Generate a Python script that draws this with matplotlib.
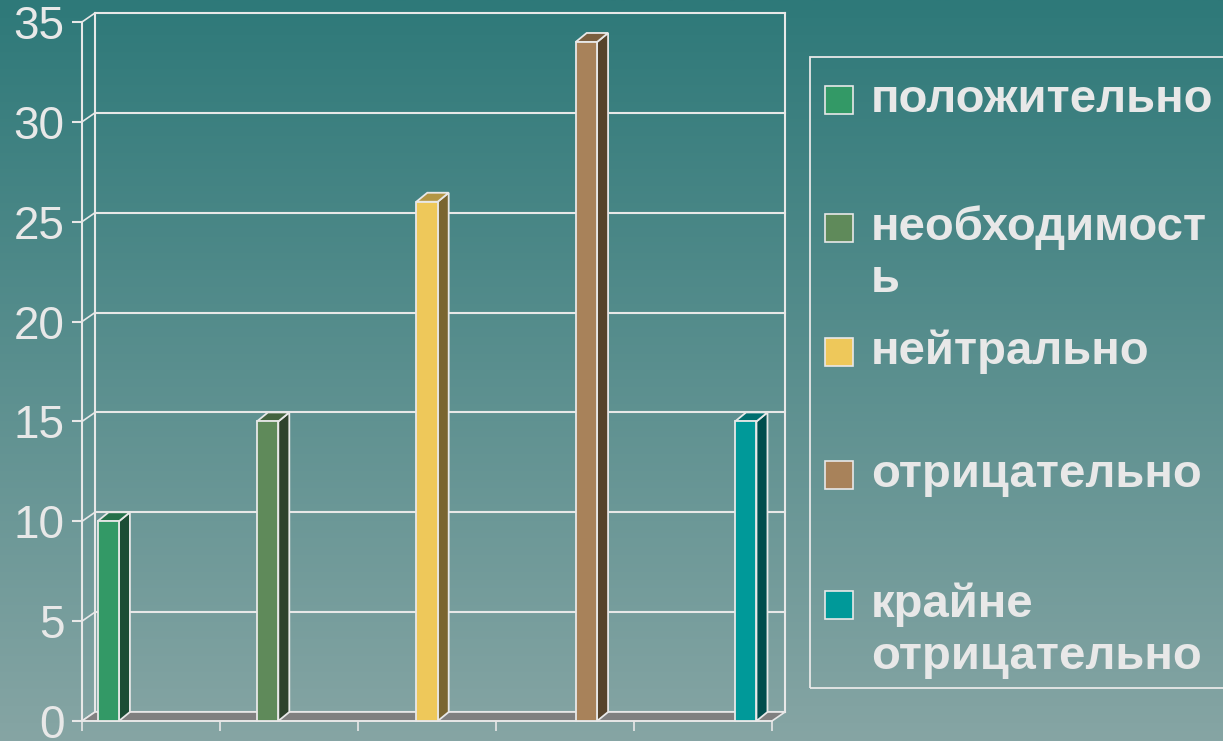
import numpy as np
import matplotlib
matplotlib.use('Agg')
import matplotlib.pyplot as plt
from matplotlib.patches import Rectangle, Polygon

plt.rcParams['font.family'] = ['Liberation Sans', 'DejaVu Sans']

# data
labels = ['положительно', 'необходимост\nь', 'нейтрально', 'отрицательно', 'крайне\nотрицательно']
values = [10, 15, 26, 34, 15]
front_colors = ['#339966', '#5f8a5a', '#eec85a', '#a8825a', '#009999']
side_colors = ['#1b4d35', '#2e422c', '#7a6530', '#56432b', '#004d4d']
top_colors = ['#24704a', '#44633f', '#b39645', '#7a5f40', '#006f6f']
yticks = [0, 5, 10, 15, 20, 25, 30, 35]

W, H = 1223, 741
fig = plt.figure(figsize=(W / 100, H / 100), dpi=100)

# gradient background
bg = fig.add_axes([0, 0, 1, 1], zorder=-10)
top_rgb = np.array([46, 121, 121]) / 255
bot_rgb = np.array([134, 165, 164]) / 255
t = np.linspace(0, 1, 256)[:, None]
grad = top_rgb[None, :] * (1 - t) + bot_rgb[None, :] * t
bg.imshow(grad[:, None, :], aspect='auto', extent=[0, 1, 0, 1])
bg.set_axis_off()

txt = '#e8e8e8'
ax = fig.add_axes([82 / W, (H - 721) / H, 690 / W, 699 / H])
ax.set_facecolor('none')
ax.set_xlim(0, 5)
ax.set_ylim(0, 35)
for s in ['top', 'right']:
    ax.spines[s].set_visible(False)
ax.spines['left'].set_color(txt)
ax.spines['left'].set_linewidth(1.5)
ax.spines['bottom'].set_color(txt)
ax.spines['bottom'].set_linewidth(1.2)
ax.set_yticks(yticks)
ax.set_yticklabels([str(v) for v in yticks])
ax.set_xticks(range(6))
ax.set_xticklabels([])
ax.tick_params(axis='y', length=7.5, width=1.5, color=txt, labelcolor=txt, labelsize=33, pad=5)
ax.tick_params(axis='x', length=7.5, width=1.2, color=txt)


def depth(px, py):
    inv = ax.transData.inverted()
    a = inv.transform((0, 0))
    b = inv.transform((px, py))
    return b[0] - a[0], b[1] - a[1]


wdx, wdy = depth(13, 9)
bdx, bdy = depth(11, 9)

# back wall
for y in yticks:
    ax.plot([wdx, 5 + wdx], [y + wdy, y + wdy], color=txt, lw=1.5, clip_on=False, zorder=1)
    ax.plot([0, wdx], [y, y + wdy], color=txt, lw=1.2, clip_on=False, zorder=1)
ax.plot([wdx, wdx], [wdy, 35 + wdy], color=txt, lw=1.5, clip_on=False, zorder=1)
ax.plot([5 + wdx, 5 + wdx], [wdy, 35 + wdy], color=txt, lw=1.5, clip_on=False, zorder=1)

# floor
ax.add_patch(Polygon([(0, 0), (5, 0), (5 + wdx, wdy), (wdx, wdy)], closed=True,
                     facecolor='#808080', edgecolor=txt, lw=1.2, clip_on=False, zorder=2))

# bars
n = len(values)
spacing = 1.155
width = 0.155
centers = 2.5 + (np.arange(n) - (n - 1) / 2) * spacing
for c, v, fc, sc, tc in zip(centers, values, front_colors, side_colors, top_colors):
    x0, x1 = c - width / 2, c + width / 2
    ax.add_patch(Polygon([(x1, 0), (x1 + bdx, bdy), (x1 + bdx, v + bdy), (x1, v)], closed=True,
                         facecolor=sc, edgecolor=txt, lw=1.3, clip_on=False, zorder=3))
    ax.add_patch(Polygon([(x0, v), (x1, v), (x1 + bdx, v + bdy), (x0 + bdx, v + bdy)], closed=True,
                         facecolor=tc, edgecolor=txt, lw=1.3, clip_on=False, zorder=3))
    ax.add_patch(Rectangle((x0, 0), width, v, facecolor=fc, edgecolor=txt, lw=1.3,
                           clip_on=False, zorder=4))

# legend
fig.patches.append(Rectangle((810 / W, (H - 688) / H), 0.4, (688 - 57) / H, transform=fig.transFigure,
                             facecolor='none', edgecolor=txt, lw=1.3))
rows = [100, 228, 352, 475, 605]
for yc, lab, fc in zip(rows, labels, front_colors):
    fig.patches.append(Rectangle((825 / W, (H - yc - 14) / H), 28 / W, 28 / H, transform=fig.transFigure,
                                 facecolor=fc, edgecolor=txt, lw=1.2))
    for k, line in enumerate(lab.split('\n')):
        fig.text(871 / W, (H - yc - 52 * k) / H, line, color=txt, fontsize=34, fontweight='bold',
                 va='center', ha='left')

fig.savefig('out.png', dpi=100)
